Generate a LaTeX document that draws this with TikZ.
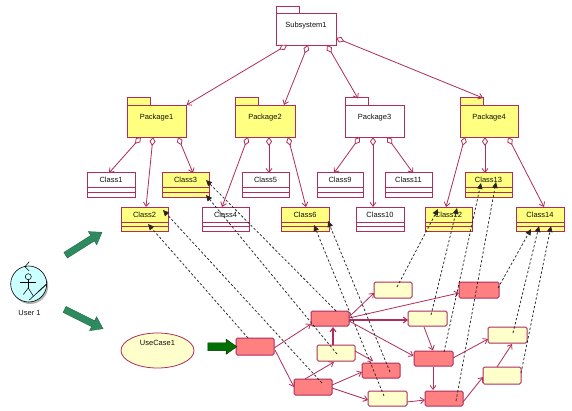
\documentclass[tikz,border=0pt]{standalone}
\usepackage{fontspec}
\setmainfont{Liberation Sans}
\usetikzlibrary{arrows.meta,shapes.geometric,shapes.arrows}
\definecolor{edgec}{HTML}{B02C5C}
\definecolor{yel}{HTML}{FFFF80}
\definecolor{pale}{HTML}{FFFFCC}
\definecolor{redb}{HTML}{FF8080}
\definecolor{ink}{HTML}{101010}
\definecolor{biggreen}{HTML}{2E8B5F}
\definecolor{darkgr}{HTML}{007000}
\definecolor{actorc}{HTML}{CCFFFF}
\newcommand\cn[5]{\draw[#1] ([shift={(#3)}]#2.center) -- ([shift={(#5)}]#4.center);}
\tikzset{
  x=1pt,y=-1pt,
  lab/.style={font=\fontsize{7.5}{8}\selectfont,text=ink},
  pkgbody/.style={draw=edgec,line width=.9pt,lab,inner sep=0pt,minimum width=#1,
    text height=15pt,text depth=17pt},
  pkgbody/.default=59pt,
  pkgtab/.style={draw=edgec,line width=.9pt,minimum width=23pt,minimum height=7.5pt,inner sep=0pt},
  classbox/.style={draw=edgec,line width=.9pt,lab,inner xsep=0pt,inner ysep=2pt,minimum width=#1,
    text height=8pt,text depth=12.5pt,
    path picture={
      \draw[edgec,line width=.8pt] ([yshift=-15pt]path picture bounding box.north west) -- ([yshift=-15pt]path picture bounding box.north east);
      \draw[edgec,line width=.8pt] ([yshift=-19.5pt]path picture bounding box.north west) -- ([yshift=-19.5pt]path picture bounding box.north east);
    }},
  classbox/.default=47pt,
  flow/.style={draw=edgec,line width=1pt,rounded corners=1.5pt,inner sep=0pt,minimum width=#1},
  flow/.default=38pt,
  h15/.style={minimum height=15pt},
  h16/.style={minimum height=16pt},
  h17/.style={minimum height=17pt},
  agg/.style={edgec,line width=.8pt,{Diamond[fill=white,length=9pt,width=6pt]}-{Straight Barb[length=4pt,width=6pt]}},
  ctl/.style={edgec,line width=.8pt,-{Straight Barb[length=4pt,width=6pt]}},
  ctlb/.style={edgec,line width=1.1pt,-{Straight Barb[length=4pt,width=6pt]}},
  dep/.style={black!85,line width=.75pt,dash pattern=on 2.4pt off 2pt,-{Triangle[length=6pt,width=5.5pt]}},
  bigarrow/.style={single arrow,draw=biggreen!75!black,fill=biggreen,line width=.4pt,inner sep=3.1pt,
    single arrow head extend=4.5pt,single arrow tip angle=70,single arrow head indent=0pt,minimum height=43pt,minimum width=15pt},
}
\begin{document}
\begin{tikzpicture}
\useasboundingbox (0,0) rectangle (572,411);
\fill[white] (0,0) rectangle (572,411);

% Packages
\node[pkgtab] (subtab) at (287.5,9.75) {};
\node[pkgbody=60pt,fill=white] (sub) at (306,29) {Subsystem1};
\node[pkgtab,fill=yel] (pk1tab) at (138.5,101.5) {};
\node[pkgbody,fill=yel] (pk1) at (156.5,121) {Package1};
\node[pkgtab,fill=yel] (pk2tab) at (246.5,101.5) {};
\node[pkgbody=60pt,fill=yel] (pk2) at (265,121) {Package2};
\node[pkgtab,fill=white] (pk3tab) at (356.5,101.5) {};
\node[pkgbody,fill=white] (pk3) at (374.5,121) {Package3};
\node[pkgtab,fill=yel] (pk4tab) at (471.5,101.5) {};
\node[pkgbody=58pt,fill=yel] (pk4) at (489,121) {Package4};

% Classes
\node[classbox=48pt,fill=white] (c1) at (111,185) {Class1};
\node[classbox,fill=yel] (c3) at (185.5,185) {Class3};
\node[classbox,fill=white] (c5) at (265.5,185) {Class5};
\node[classbox=46pt,fill=white] (c9) at (340,185) {Class9};
\node[classbox,fill=white] (c11) at (408.5,185) {Class11};
\node[classbox,fill=yel] (c13) at (488.5,185) {Class13};
\node[classbox,fill=yel] (c2) at (144.5,219.5) {Class2};
\node[classbox,fill=white] (c4) at (225.5,219.5) {Class4};
\node[classbox=48pt,fill=yel] (c6) at (305,219.5) {Class6};
\node[classbox=48pt,fill=white] (c10) at (380,219.5) {Class10};
\node[classbox,fill=yel] (c12) at (448.5,219.5) {Class12};
\node[classbox=48pt,fill=yel] (c14) at (540,219.5) {Class14};

% Flow boxes
\node[flow,h17,fill=redb] (ra) at (255,346.5) {};
\node[flow,h15,fill=redb] (rb) at (330,318.5) {};
\node[flow,h16,fill=pale] (yc) at (393,290) {};
\node[flow=39pt,h15,fill=pale] (yd) at (427.5,318.5) {};
\node[flow,h16,fill=pale] (ye) at (336,353) {};
\node[flow,h15,fill=redb] (rf) at (381,370.5) {};
\node[flow,h16,fill=redb] (rg) at (313,387) {};
\node[flow=39pt,h15,fill=pale] (yh) at (387.5,398.5) {};
\node[flow,h15,fill=redb] (ri) at (444,398.5) {};
\node[flow=40pt,h16,fill=redb] (rj) at (479,290) {};
\node[flow=39pt,h15,fill=redb] (rk) at (433.5,358.5) {};
\node[flow=39pt,h16,fill=pale] (yl) at (507.5,335) {};
\node[flow,h17,fill=pale] (ym) at (502,375.5) {};

% Use case
\node[ellipse,draw=edgec,line width=.8pt,fill=pale,minimum width=73pt,minimum height=35pt,inner sep=0pt,
  label={[lab,yshift=7.5pt]center:UseCase1}] (uc) at (157.5,350.5) {};

% Actor
\fill[black!30] (30.2,286) circle (18);
\node[circle,draw=black,line width=.6pt,fill=actorc,minimum size=36pt,inner sep=0pt] (actor) at (28.7,284) {};
\begin{scope}[line width=.55pt,black]
  \draw (28.3,276.7) circle (3);
  \draw (28.3,279.7) -- (28.3,288);
  \draw (20,282.3) -- (36,282.3);
  \draw (23.3,294.5) -- (28.3,288) -- (33.3,296);
  \draw (29.3,261.7) -- (25,266.7) -- (29.3,271);
  \draw (29.3,300) -- (38,292);
  \draw[line width=.9pt] (38,292) -- (46.7,284);
\end{scope}
\node[lab] (usr) at (29.5,312.5) {User 1};

% Big arrows
\node[bigarrow,rotate=32.3] (g1) at (81.8,245) {};
\node[bigarrow,rotate=-26.6] (g2) at (81.7,318) {};
\node[bigarrow,draw=black!60!darkgr,fill=darkgr,inner sep=3.6pt,minimum height=29pt,single arrow head extend=3.5pt] (g3) at (219.6,346.7) {};

% Aggregations
\cn{agg}{sub}{-19,16}{pk1}{30,-16}
\cn{agg}{sub}{2,16}{pk2}{19,-16}
\cn{agg}{sub}{21,16}{pk3}{-16.5,-22.5}
\cn{agg}{sub}{30,9}{pk4}{-6,-23}
\cn{agg}{pk1}{-15.5,16}{c1}{-2,-12}
\cn{agg}{pk1}{-3.5,16}{c2}{1.5,-12.5}
\cn{agg}{pk1}{21.5,16}{c3}{7.5,-12}
\cn{agg}{pk2}{-17,16}{c4}{-3.5,-12.5}
\cn{agg}{pk2}{4,16}{c5}{3.5,-12}
\cn{agg}{pk2}{23,16}{c6}{1,-12.5}
\cn{agg}{pk3}{-14.5,16}{c9}{-6,-12}
\cn{agg}{pk3}{-1.5,16}{c10}{-7,-12.5}
\cn{agg}{pk3}{12.5,16}{c11}{4.5,-12}
\cn{agg}{pk4}{-24,16}{c12}{-2.5,-12.5}
\cn{agg}{pk4}{-4,16}{c13}{-3.5,-12}
\cn{agg}{pk4}{19,16}{c14}{4,-12.5}

% Flow edges
\cn{ctl}{ra}{19,1.5}{rb}{-19,5.5}
\cn{ctl}{ra}{20,3.5}{rg}{-19,0}
\cn{ctl}{rg}{-8,-8}{ye}{-2,9}
\cn{ctlb}{ye}{-3,-8}{rb}{3,8.5}
\cn{ctl}{ye}{19,-2}{rf}{-8,-9.5}
\cn{ctl}{rg}{19,-2}{rf}{-19,1.5}
\cn{ctl}{rg}{19,1}{yh}{-19.5,1.5}
\cn{ctl}{yh}{19.5,3.5}{ri}{-19,1.5}
\cn{ctl}{rb}{19,-1.5}{yc}{-19,3}
\cn{ctl}{rb}{19,-.5}{rj}{-20,3}
\cn{ctlb}{rb}{19,1.5}{yd}{-19.5,1.5}
\cn{ctl}{rb}{19,2.5}{rk}{-20,-2.5}
\cn{ctl}{yd}{-3.5,8.5}{rk}{-.5,-8}
\cn{ctl}{rk}{-.5,8}{ri}{-11,-8.5}
\cn{ctl}{rk}{19.5,-.5}{yl}{-19.5,4}
\cn{ctl}{ri}{19,3.5}{ym}{-19,1.5}
\cn{ctl}{ym}{-5,-8.5}{yl}{4.5,9}

% Dependencies
\cn{dep}{ra}{-7,-8.5}{c2}{3.5,4.5}
\cn{dep}{rg}{9,-4}{c2}{18.5,-9.5}
\cn{dep}{ye}{1,1}{c3}{20.5,10}
\cn{dep}{rb}{6,-7.5}{c3}{20.5,-5}
\cn{dep}{yh}{-3.5,-2.5}{c6}{9,5.5}
\cn{dep}{rf}{9,1.5}{c6}{23,1.5}
\cn{dep}{yc}{4,-3}{c12}{-10.5,-10.5}
\cn{dep}{yd}{3.5,-3.5}{c12}{8.5,-11.5}
\cn{dep}{rk}{10.5,-6.5}{c13}{-7.5,-2}
\cn{dep}{ri}{12,2.5}{c13}{7.5,-3}
\cn{dep}{rj}{19,-2}{c14}{-9,9.5}
\cn{dep}{yl}{5.5,-2}{c14}{-1,6.5}
\cn{dep}{ym}{19,-2.5}{c14}{11,6.5}
\end{tikzpicture}
\end{document}
